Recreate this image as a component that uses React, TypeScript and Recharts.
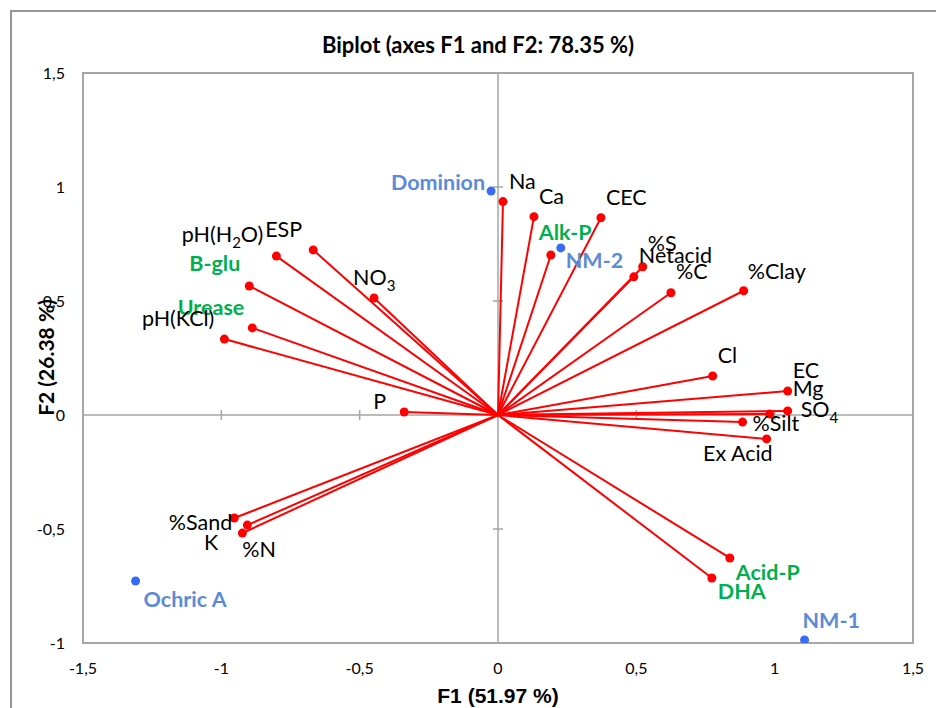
import React from "react";
import {
  ScatterChart,
  Scatter,
  XAxis,
  YAxis,
  ReferenceLine,
  ReferenceArea,
} from "recharts";

// variable loadings (red vectors)
const variables = [
  "Na", "Ca", "CEC", "Alk-P", "%S", "Netacid", "%C", "%Clay", "Cl", "Mg",
  "SO4", "EC", "%Silt", "Ex Acid", "Acid-P", "DHA", "P", "NO3", "ESP",
  "pH(H2O)", "B-glu", "Urease", "pH(KCl)", "%Sand", "K", "%N",
];
const f1Loadings = [
  0.018, 0.13, 0.372, 0.191, 0.523, 0.491, 0.625, 0.888, 0.776, 1.047,
  1.047, 0.982, 0.884, 0.971, 0.838, 0.773, -0.339, -0.448, -0.668,
  -0.801, -0.899, -0.888, -0.989, -0.953, -0.906, -0.924,
];
const f2Loadings = [
  0.936, 0.87, 0.865, 0.702, 0.65, 0.606, 0.536, 0.545, 0.171, 0.105,
  0.018, 0.004, -0.031, -0.105, -0.627, -0.715, 0.013, 0.513, 0.724,
  0.697, 0.566, 0.382, 0.333, -0.452, -0.483, -0.518,
];
const enzymes = ["Alk-P", "B-glu", "Urease", "Acid-P", "DHA"];

// observations (blue points)
const observations = ["Dominion", "NM-2", "Ochric A", "NM-1"];
const obsF1 = [-0.025, 0.227, -1.31, 1.108];
const obsF2 = [0.982, 0.733, -0.728, -0.987];

const xTicks = [-1.5, -1, -0.5, 0, 0.5, 1, 1.5];
const yTicks = [-1, -0.5, 0, 0.5, 1, 1.5];

// label placement: anchor, dx, dy (baseline) relative to the point
const labelPos: Record<string, [string, number, number]> = {
  Na: ["start", 6, -13],
  Ca: ["start", 5, -13],
  CEC: ["start", 5, -13],
  "Alk-P": ["start", -12, -15],
  "%S": ["start", 5, -16],
  Netacid: ["start", 5, -14],
  "%C": ["start", 5, -14],
  "%Clay": ["start", 4, -12],
  Cl: ["start", 5, -13],
  Mg: ["start", 5, 5],
  SO4: ["start", 13, 6],
  EC: ["start", 23, -36],
  "%Silt": ["start", 10, 9],
  "Ex Acid": ["end", 6, 22],
  "Acid-P": ["start", 6, 22],
  DHA: ["start", 6, 21],
  P: ["end", -18, -3],
  NO3: ["start", -21, -13],
  ESP: ["end", -11, -13],
  "pH(H2O)": ["end", -13, -14],
  "B-glu": ["end", -9, -15],
  Urease: ["end", -8, -13],
  "pH(KCl)": ["end", -10, -13],
  "%Sand": ["end", -2, 12],
  K: ["end", -29, 25],
  "%N": ["start", 0, 24],
  Dominion: ["end", -6, -1],
  "NM-2": ["start", 5, 20],
  "Ochric A": ["start", 8, 26],
  "NM-1": ["start", -2, -12],
};

const FONT = "Lato, 'Open Sans', sans-serif";
const RED = "#FF0000";
const GREEN = "#00B050";
const BLUE_DOT = "#3A6BF5";
const BLUE_TXT = "#5B8BD6";
const GRAY = "#A6A6A6";
const LABEL_SIZE = 21.5;

const fmt = (v: number) => String(v).replace(".", ",");

function labelText(name: string) {
  // digits right after a capital letter become subscripts (H2O, NO3, SO4)
  const parts = name.split(/(?<=[A-Z])(\d)/);
  const out: React.ReactNode[] = [];
  let wasSub = false;
  parts.forEach((p, i) => {
    if (i % 2 === 1) {
      out.push(
        <tspan key={i} dy={6} fontSize={15}>
          {p}
        </tspan>
      );
      wasSub = true;
    } else if (p) {
      out.push(
        <tspan key={i} dy={wasSub ? -6 : 0}>
          {p}
        </tspan>
      );
      wasSub = false;
    }
  });
  return out;
}

const VectorEnd = (props: any) => {
  const { cx, cy, payload } = props;
  if (payload.origin) return <g />;
  const [anchor, dx, dy] = labelPos[payload.name] || ["start", 5, -10];
  const isEnzyme = enzymes.includes(payload.name);
  return (
    <g>
      <circle cx={cx} cy={cy} r={4.5} fill={RED} />
      <text
        x={cx + dx}
        y={cy + dy}
        textAnchor={anchor}
        fontFamily={FONT}
        fontSize={LABEL_SIZE}
        fontWeight={isEnzyme ? 700 : 400}
        fill={isEnzyme ? GREEN : "#000"}
      >
        {labelText(payload.name)}
      </text>
    </g>
  );
};

const ObsPoint = (props: any) => {
  const { cx, cy, payload } = props;
  const [anchor, dx, dy] = labelPos[payload.name] || ["start", 5, -10];
  return (
    <g>
      <circle cx={cx} cy={cy} r={4.5} fill={BLUE_DOT} />
      <text
        x={cx + dx}
        y={cy + dy}
        textAnchor={anchor}
        fontFamily={FONT}
        fontSize={LABEL_SIZE}
        fontWeight={700}
        fill={BLUE_TXT}
      >
        {payload.name}
      </text>
    </g>
  );
};

const XTickMark = (props: any) => (
  <line x1={props.cx} x2={props.cx} y1={props.cy - 5} y2={props.cy + 5} stroke={GRAY} strokeWidth={1.5} />
);
const YTickMark = (props: any) => (
  <line x1={props.cx - 5} x2={props.cx + 5} y1={props.cy} y2={props.cy} stroke={GRAY} strokeWidth={1.5} />
);

export default function App() {
  const vectors = variables.map((name, i) => ({ name, x: f1Loadings[i], y: f2Loadings[i] }));
  const obsData = observations.map((name, i) => ({ name, x: obsF1[i], y: obsF2[i] }));
  const xMarks = xTicks.filter((v) => v !== 0 && Math.abs(v) < 1.5).map((v) => ({ x: v, y: 0 }));
  const yMarks = yTicks.filter((v) => v !== 0 && v > -1 && v < 1.5).map((v) => ({ x: 0, y: v }));

  return (
    <div style={{ position: "absolute", left: 0, top: 0, width: 936, height: 708, overflow: "hidden", background: "#fff" }}>
      <div
        style={{
          position: "absolute",
          left: 10,
          top: 10,
          width: 960,
          height: 740,
          border: "2px solid #969696",
        }}
      />
      <div
        style={{
          position: "absolute",
          left: 0,
          top: 31,
          width: 956,
          textAlign: "center",
          fontFamily: FONT,
          fontWeight: 700,
          fontSize: 22,
          color: "#000",
        }}
      >
        Biplot (axes F1 and F2: 78.35 %)
      </div>
      <div
        style={{
          position: "absolute",
          left: 398,
          top: 684,
          width: 200,
          textAlign: "center",
          fontFamily: "'Liberation Sans', Arial, sans-serif",
          fontWeight: 700,
          fontSize: 21,
          color: "#000",
        }}
      >
        F1 (51.97 %)
      </div>
      <div
        style={{
          position: "absolute",
          left: 45 - 100,
          top: 358 - 13,
          width: 200,
          textAlign: "center",
          fontFamily: FONT,
          fontWeight: 700,
          fontSize: 21,
          color: "#000",
          transform: "rotate(-90deg)",
        }}
      >
        F2 (26.38 %)
      </div>
      <div style={{ position: "absolute", left: 0, top: 0 }}>
        <ScatterChart width={936} height={708} margin={{ top: 73, right: 23, bottom: 35, left: 23 }}>
          <XAxis
            type="number"
            dataKey="x"
            domain={[-1.5, 1.5]}
            ticks={xTicks}
            tickFormatter={fmt}
            axisLine={false}
            tickLine={false}
            tickMargin={14}
            height={30}
            tick={{ fontFamily: FONT, fontSize: 16, fill: "#000" }}
            allowDataOverflow
          />
          <YAxis
            type="number"
            dataKey="y"
            domain={[-1, 1.5]}
            ticks={yTicks}
            tickFormatter={fmt}
            axisLine={false}
            tickLine={false}
            tickMargin={12}
            width={60}
            tick={{ fontFamily: FONT, fontSize: 16, fill: "#000" }}
            allowDataOverflow
          />
          <ReferenceArea x1={-1.5} x2={1.5} y1={-1} y2={1.5} fill="none" fillOpacity={0} stroke={GRAY} strokeWidth={2} />
          <ReferenceLine x={0} stroke={GRAY} strokeWidth={1.5} />
          <ReferenceLine y={0} stroke={GRAY} strokeWidth={1.5} />
          <Scatter data={xMarks} shape={XTickMark} isAnimationActive={false} />
          <Scatter data={yMarks} shape={YTickMark} isAnimationActive={false} />
          {vectors.map((v) => (
            <Scatter
              key={v.name}
              data={[{ name: v.name, x: 0, y: 0, origin: true }, v]}
              line={{ stroke: RED, strokeWidth: 2 }}
              lineType="joint"
              shape={VectorEnd}
              isAnimationActive={false}
            />
          ))}
          <Scatter data={obsData} shape={ObsPoint} isAnimationActive={false} />
        </ScatterChart>
      </div>
    </div>
  );
}
